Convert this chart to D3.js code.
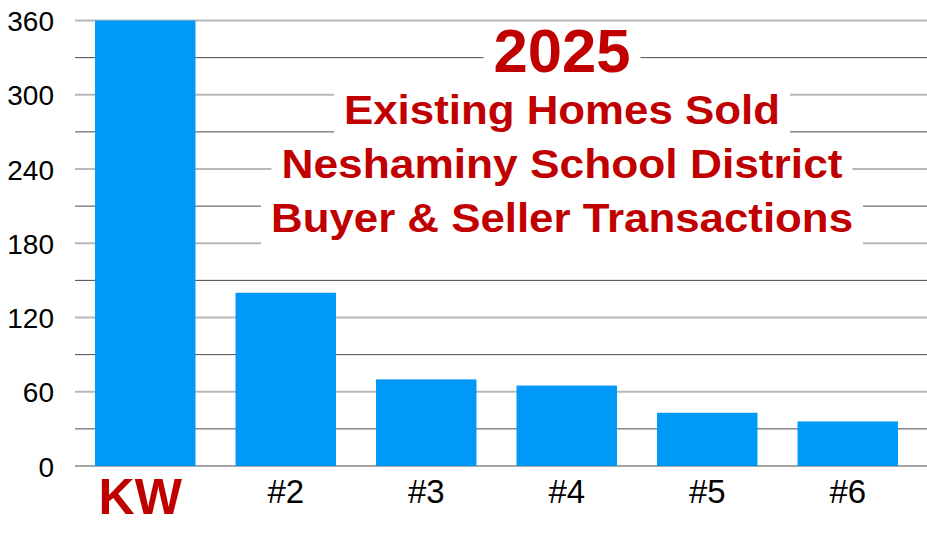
<!DOCTYPE html>
<html>
<head>
<meta charset="utf-8">
<script src="https://cdn.jsdelivr.net/npm/d3@7"></script>
<style>
  html, body { margin: 0; padding: 0; background: #fff; }
  svg { display: block; }
  text { font-family: "Liberation Sans", Arial, Helvetica, sans-serif; }
</style>
</head>
<body>
<svg id="chart" width="927" height="537"></svg>
<script>
// ---- data ----
const categories = ["KW", "#2", "#3", "#4", "#5", "#6"];
const values = [360, 140, 70, 65, 43, 36];
const yTicks = [0, 60, 120, 180, 240, 300, 360];
const yMinorTicks = [30, 90, 150, 210, 270, 330];
const titleLines = ["2025", "Existing Homes Sold", "Neshaminy School District", "Buyer & Seller Transactions"];

// ---- layout ----
const W = 927, H = 537;
const svg = d3.select("#chart");
const red = "#c00000";
const blue = "#0099f8";

const x = d3.scaleBand().domain(categories).range([75, 918]).paddingInner(0.285).paddingOuter(0.1425);
const y = d3.scaleLinear().domain([0, 360]).range([466, 20.5]);

// minor gridlines (dark, thin)
svg.append("g").selectAll("line").data(yMinorTicks).join("line")
  .attr("x1", 75).attr("x2", W)
  .attr("y1", d => y(d)).attr("y2", d => y(d))
  .attr("stroke", "#4a4a4a").attr("stroke-width", 1);

// major gridlines (light, thicker)
svg.append("g").selectAll("line").data(yTicks.filter(d => d !== 0)).join("line")
  .attr("x1", 75).attr("x2", W)
  .attr("y1", d => y(d)).attr("y2", d => y(d))
  .attr("stroke", "#b8b8b8").attr("stroke-width", 2);

// baseline
svg.append("line").attr("x1", 75).attr("x2", W)
  .attr("y1", y(0)).attr("y2", y(0))
  .attr("stroke", "#4a4a4a").attr("stroke-width", 1.2);

// y axis labels
const yAxis = d3.axisLeft(y).tickValues(yTicks).tickSize(0).tickPadding(0);
const gy = svg.append("g").attr("transform", "translate(54,0)").call(yAxis);
gy.select(".domain").remove();
gy.selectAll("text")
  .attr("font-size", 28).attr("fill", "#000")
  .attr("font-family", "'Liberation Sans', Arial, sans-serif")
  .attr("dy", "0.36em");

// bars
svg.append("g").selectAll("rect").data(categories).join("rect")
  .attr("x", d => x(d))
  .attr("width", x.bandwidth())
  .attr("y", (d, i) => y(values[i]))
  .attr("height", (d, i) => y(0) - y(values[i]))
  .attr("fill", blue);

// x labels
const xAxis = d3.axisBottom(x).tickSize(0).tickPadding(0);
const gx = svg.append("g").attr("transform", "translate(0," + y(0) + ")").call(xAxis);
gx.select(".domain").remove();
gx.selectAll("text")
  .attr("font-family", "'Liberation Sans', Arial, sans-serif")
  .attr("dy", null)
  .attr("y", d => d === "KW" ? 48 : 37)
  .attr("dx", d => d === "KW" ? -5 : 0)
  .attr("font-size", d => d === "KW" ? 50 : 33)
  .attr("font-weight", d => d === "KW" ? "bold" : "normal")
  .attr("fill", d => d === "KW" ? red : "#000");

// title block with white backgrounds
const titleSpec = [
  { size: 61, base: 72, width: 137 },
  { size: 40, base: 123.5, width: 436 },
  { size: 40, base: 177.5, width: 561 },
  { size: 40, base: 231.5, width: 582 }
];
const cx = 562;
const tg = svg.append("g");
titleLines.forEach((t, i) => {
  const s = titleSpec[i];
  tg.append("rect")
    .attr("x", cx - s.width / 2 - 10)
    .attr("width", s.width + 20)
    .attr("y", s.base - 0.8 * s.size)
    .attr("height", 1.15 * s.size)
    .attr("fill", "#fff");
});
titleLines.forEach((t, i) => {
  const s = titleSpec[i];
  tg.append("text")
    .attr("x", cx).attr("y", s.base)
    .attr("text-anchor", "middle")
    .attr("font-size", s.size)
    .attr("font-weight", "bold")
    .attr("fill", red)
    .attr("textLength", s.width)
    .attr("lengthAdjust", "spacingAndGlyphs")
    .text(t);
});
</script>
</body>
</html>
